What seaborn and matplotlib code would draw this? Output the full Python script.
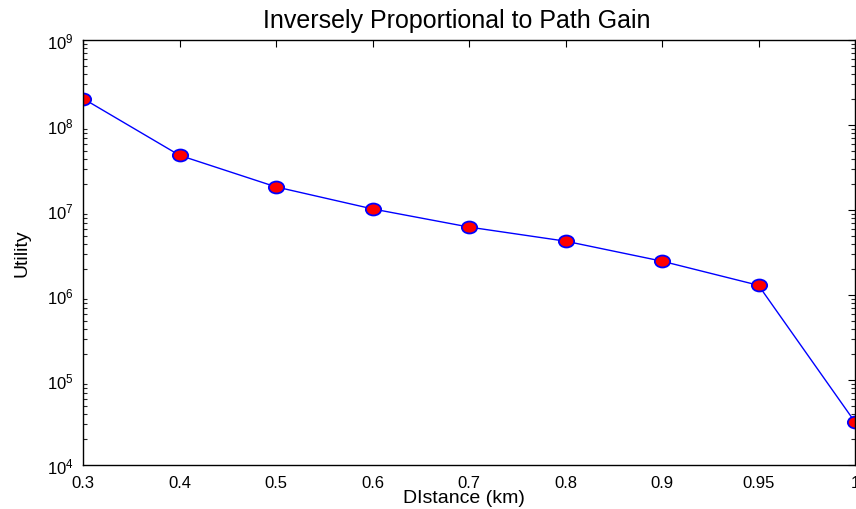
import numpy as np
import pandas as pd
import matplotlib
matplotlib.use("Agg")
import matplotlib.pyplot as plt
import seaborn as sns
from matplotlib.path import Path
from matplotlib.transforms import Affine2D
from matplotlib.ticker import LogLocator, NullFormatter, FixedLocator

# Data
distance_labels = ["0.3", "0.4", "0.5", "0.6", "0.7", "0.8", "0.9", "0.95", "1"]
utility = [2.05e8, 4.4e7, 1.87e7, 1.03e7, 6.3e6, 4.3e6, 2.5e6, 1.3e6, 3.2e4]

sns.set_theme(style="white")
plt.rcParams["font.family"] = ["Liberation Sans", "DejaVu Sans"]
plt.rcParams["mathtext.fontset"] = "custom"
plt.rcParams["mathtext.rm"] = "Liberation Sans"
plt.rcParams["mathtext.it"] = "Liberation Sans:italic"
plt.rcParams["mathtext.bf"] = "Liberation Sans:bold"

df = pd.DataFrame({"pos": np.arange(len(distance_labels)), "utility": utility})

# slightly wide elliptical marker
ellipse = Path.unit_circle().transformed(Affine2D().scale(1.28, 1.0))

fig = plt.figure(figsize=(8.56, 5.10), dpi=100)
ax = fig.add_axes([83 / 856, 1 - 466 / 510, (855 - 83) / 856, (466 - 41) / 510])

sns.lineplot(data=df, x="pos", y="utility", ax=ax, color="blue", linewidth=1.0,
             marker=ellipse, markersize=11, markerfacecolor="red",
             markeredgecolor="blue", markeredgewidth=1.3)

ax.set_yscale("log")
ax.set_ylim(1e4, 1e9)
ax.set_xlim(0, len(distance_labels) - 1)
ax.xaxis.set_major_locator(FixedLocator(df["pos"].values))
ax.set_xticklabels(distance_labels)
ax.yaxis.set_major_locator(LogLocator(base=10, numticks=10))
ax.yaxis.set_minor_locator(LogLocator(base=10, subs=np.arange(2, 10), numticks=20))
ax.yaxis.set_minor_formatter(NullFormatter())

for side in ["top", "right", "left", "bottom"]:
    ax.spines[side].set_visible(True)
    ax.spines[side].set_color("black")
    ax.spines[side].set_linewidth(1.0)

ax.tick_params(axis="both", which="major", direction="in", length=5, width=0.8,
               top=True, right=True, labelsize=12, colors="black")
ax.tick_params(axis="y", which="minor", direction="in", length=3, width=0.8,
               left=True, right=True)
ax.tick_params(axis="x", which="major", pad=7)
ax.tick_params(axis="y", which="major", pad=7)

ax.set_title("Inversely Proportional to Path Gain", fontsize=18, pad=9,
             color="black", x=0.484)
ax.set_xlabel("DIstance (km)", fontsize=14, color="black")
ax.xaxis.set_label_coords(0.493, -0.056)
ax.set_ylabel("Utility", fontsize=14, color="black")
ax.yaxis.set_label_coords(-0.068, 0.5)

fig.savefig("out.png", dpi=100)
